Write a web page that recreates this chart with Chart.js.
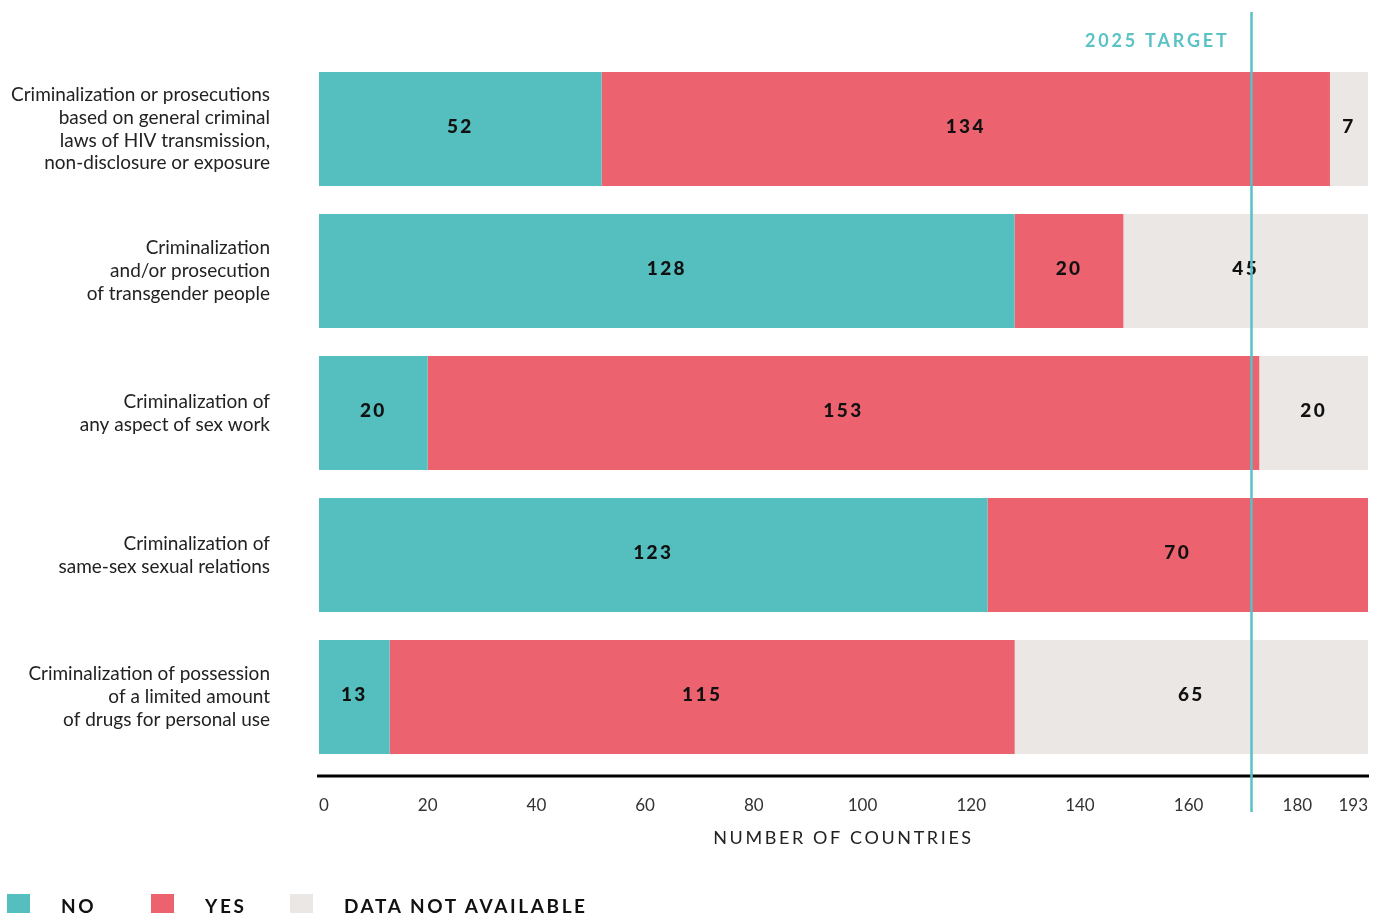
<!DOCTYPE html>
<html>
<head>
<meta charset="utf-8">
<script src="https://cdn.jsdelivr.net/npm/chart.js@4.4.1/dist/chart.umd.min.js"></script>
<style>
  body { margin: 0; background: #fff; }
  #wrap { position: relative; width: 1373px; height: 913px; overflow: hidden; }
  #legend { position: absolute; left: 7px; top: 894px; display: flex; font-family: Lato, sans-serif; }
  .item { display: flex; align-items: flex-start; }
  .item:nth-child(1) { width: 144px; }
  .item:nth-child(2) { width: 139px; }
  .box { width: 23px; height: 20px; margin-right: 31px; }
  .txt { font-weight: 700; font-size: 19px; letter-spacing: 2.6px; color: #111; line-height: 20px; margin-top: 2px; }
</style>
</head>
<body>
<div id="wrap">
  <canvas id="lawsChart" width="1373" height="913"></canvas>
  <div id="legend"></div>
</div>
<script>
const categories = [
  ['Criminalization or prosecutions', 'based on general criminal', 'laws of HIV transmission,', 'non-disclosure or exposure'],
  ['Criminalization', 'and/or prosecution', 'of transgender people'],
  ['Criminalization of', 'any aspect of sex work'],
  ['Criminalization of', 'same-sex sexual relations'],
  ['Criminalization of possession', 'of a limited amount', 'of drugs for personal use']
];
const noValues = [52, 128, 20, 123, 13];
const yesValues = [134, 20, 153, 70, 115];
const naValues = [7, 45, 20, 0, 65];
const xTicks = [0, 20, 40, 60, 80, 100, 120, 140, 160, 180, 193];
const targetValue = 171.5;
const targetLabel = '2025 TARGET';
const xTitle = 'NUMBER OF COUNTRIES';
const seriesNames = ['NO', 'YES', 'DATA NOT AVAILABLE'];

const colors = ['#55bebe', '#ec636f', '#ebe7e4'];
const FONT = 'Lato, sans-serif';

// values inside the bars, target line, axis line and axis title
const overlay = {
  id: 'overlay',
  afterDatasetsDraw(chart) {
    const ctx = chart.ctx;
    ctx.save();
    ctx.font = '900 19px ' + FONT;
    ctx.letterSpacing = '2.4px';
    ctx.fillStyle = '#111';
    ctx.textAlign = 'center';
    ctx.textBaseline = 'middle';
    chart.data.datasets.forEach((ds, i) => {
      chart.getDatasetMeta(i).data.forEach((bar, j) => {
        const v = ds.data[j];
        if (!v) return;
        ctx.fillText(String(v), (bar.x + bar.base) / 2, bar.y - 2);
      });
    });
    ctx.restore();
  },
  afterDraw(chart) {
    const ctx = chart.ctx;
    const x = chart.scales.x;
    const area = chart.chartArea;
    ctx.save();
    // axis line
    ctx.strokeStyle = '#000';
    ctx.lineWidth = 3;
    ctx.beginPath();
    ctx.moveTo(area.left - 2, area.bottom + 8);
    ctx.lineTo(area.right + 1, area.bottom + 8);
    ctx.stroke();
    // axis title
    ctx.font = '400 18px ' + FONT;
    ctx.letterSpacing = '2.6px';
    ctx.fillStyle = '#222';
    ctx.textAlign = 'center';
    ctx.textBaseline = 'middle';
    ctx.fillText(xTitle, (area.left + area.right) / 2, 838);
    // target line
    const tx = Math.round(x.getPixelForValue(targetValue)) + 0.5;
    ctx.strokeStyle = '#56c1c6';
    ctx.lineWidth = 2.5;
    ctx.beginPath();
    ctx.moveTo(tx, 12);
    ctx.lineTo(tx, area.bottom + 44);
    ctx.stroke();
    ctx.font = '700 18px ' + FONT;
    ctx.letterSpacing = '2.8px';
    ctx.fillStyle = '#5bc2c6';
    ctx.textAlign = 'right';
    ctx.fillText(targetLabel, tx - 22, 41);
    ctx.restore();
  }
};

const ctx = document.getElementById('lawsChart').getContext('2d');
new Chart(ctx, {
  type: 'bar',
  data: {
    labels: categories,
    datasets: [
      { label: seriesNames[0], data: noValues, backgroundColor: colors[0] },
      { label: seriesNames[1], data: yesValues, backgroundColor: colors[1] },
      { label: seriesNames[2], data: naValues, backgroundColor: colors[2] }
    ]
  },
  options: {
    indexAxis: 'y',
    responsive: false,
    animation: false,
    layout: { padding: { top: 58, right: 5, left: 0, bottom: 0 } },
    datasets: { bar: { barPercentage: 1, categoryPercentage: 0.803, borderWidth: 0 } },
    plugins: {
      legend: { display: false },
      tooltip: { enabled: false }
    },
    scales: {
      x: {
        stacked: true,
        min: 0,
        max: 193,
        grid: { display: false, drawTicks: false },
        border: { display: false },
        afterBuildTicks: s => { s.ticks = xTicks.map(v => ({ value: v })); },
        afterFit: s => { s.height = 145; s.paddingLeft = 0; s.paddingRight = 0; },
        ticks: {
          align: 'inner',
          padding: 27,
          color: '#333',
          font: { family: FONT, size: 17 },
          callback: v => String(v)
        }
      },
      y: {
        stacked: true,
        grid: { display: false, drawTicks: false },
        border: { display: false },
        afterFit: s => { s.width = 319; s.paddingTop = 0; s.paddingBottom = 0; },
        ticks: {
          padding: 49,
          color: '#222',
          font: { family: FONT, size: 19, lineHeight: 1.2 }
        }
      }
    }
  },
  plugins: [overlay]
});

const legend = document.getElementById('legend');
seriesNames.forEach((name, i) => {
  const item = document.createElement('div');
  item.className = 'item';
  item.innerHTML = '<div class="box" style="background:' + colors[i] + '"></div><div class="txt">' + name + '</div>';
  legend.appendChild(item);
});
</script>
</body>
</html>
